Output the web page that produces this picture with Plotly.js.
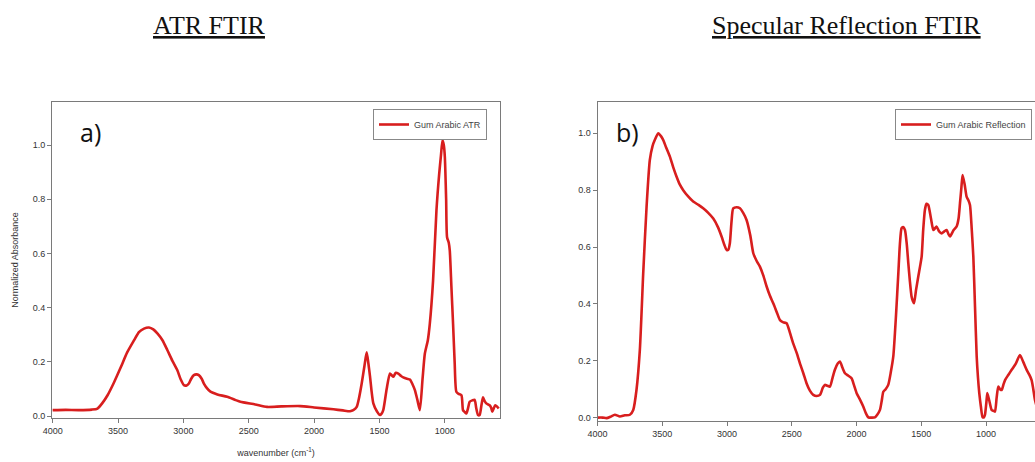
<!DOCTYPE html>
<html>
<head>
<meta charset="utf-8">
<script src="https://cdn.plot.ly/plotly-3.0.1.min.js"></script>
<style>
html,body{margin:0;padding:0;overflow:hidden;background:#fff;}
#chart{width:1050px;height:462px;}
</style>
</head>
<body>
<div id="chart"></div>
<script>
// ATR FTIR spectrum (panel a)
const atrWavenumber = [4000,3900,3800,3700,3657,3620,3580,3530,3479,3430,3377,3340,3301,3263,3230,3199,3160,3123,3085,3047,3020,2996,2975,2958,2940,2920,2900,2882,2860,2843,2820,2793,2740,2665,2600,2564,2450,2360,2250,2106,2000,1852,1780,1725,1700,1674,1655,1636,1615,1598,1585,1572,1560,1547,1520,1496,1485,1471,1445,1420,1405,1394,1375,1356,1335,1318,1290,1267,1245,1229,1210,1191,1170,1153,1130,1115,1090,1064,1043,1030,1018,1008,1000,990,983,970,962,950,937,925,912,895,873,861,848,835,822,810,790,772,760,746,734,720,708,695,683,670,657,645,637,625,614,600,588];
const atrAbsorbance = [0.022,0.023,0.022,0.024,0.028,0.048,0.077,0.125,0.18,0.235,0.28,0.31,0.323,0.327,0.32,0.305,0.28,0.244,0.205,0.17,0.135,0.114,0.113,0.12,0.138,0.151,0.154,0.151,0.138,0.12,0.103,0.09,0.08,0.071,0.059,0.053,0.043,0.034,0.036,0.037,0.032,0.025,0.021,0.018,0.022,0.034,0.07,0.12,0.185,0.235,0.195,0.145,0.09,0.047,0.018,0.004,0.008,0.022,0.1,0.157,0.15,0.145,0.16,0.157,0.148,0.143,0.138,0.135,0.115,0.096,0.06,0.022,0.14,0.23,0.28,0.34,0.5,0.76,0.895,0.96,1.018,1.0,0.957,0.8,0.66,0.64,0.61,0.48,0.34,0.2,0.09,0.082,0.077,0.022,0.015,0.01,0.03,0.053,0.058,0.06,0.03,0.004,0.004,0.04,0.069,0.055,0.047,0.043,0.04,0.03,0.016,0.03,0.04,0.035,0.028];

// Specular reflection FTIR spectrum (panel b)
const reflWavenumber = [4000,3960,3930,3900,3866,3827,3790,3750,3724,3699,3673,3647,3621,3596,3575,3557,3531,3510,3493,3470,3441,3415,3390,3365,3338,3300,3261,3220,3184,3145,3106,3070,3042,3020,3003,2990,2978,2965,2952,2925,2900,2875,2849,2820,2797,2770,2746,2720,2694,2670,2643,2615,2591,2565,2540,2515,2489,2460,2437,2410,2386,2360,2334,2308,2282,2260,2244,2225,2205,2185,2167,2145,2128,2108,2089,2065,2038,2020,1999,1975,1948,1930,1909,1880,1858,1840,1819,1805,1793,1775,1755,1735,1716,1695,1677,1665,1652,1640,1626,1612,1600,1588,1575,1565,1556,1540,1523,1510,1497,1485,1472,1460,1446,1425,1407,1395,1382,1362,1343,1322,1304,1290,1278,1250,1227,1212,1201,1190,1181,1165,1150,1137,1124,1110,1098,1085,1072,1062,1052,1040,1026,1016,1008,998,990,975,957,945,931,918,905,892,879,866,853,828,802,770,738,712,686,665,648,635,622,600,585,570];
const reflSignal = [0.0,0.0,-0.002,0.003,0.01,0.004,0.008,0.01,0.027,0.097,0.238,0.508,0.742,0.906,0.955,0.977,1.0,0.99,0.977,0.95,0.918,0.88,0.848,0.82,0.8,0.778,0.76,0.748,0.736,0.72,0.7,0.67,0.637,0.607,0.59,0.59,0.613,0.69,0.736,0.74,0.736,0.72,0.695,0.64,0.578,0.55,0.531,0.5,0.461,0.43,0.402,0.37,0.343,0.335,0.332,0.3,0.261,0.225,0.191,0.155,0.121,0.095,0.08,0.076,0.08,0.105,0.115,0.112,0.109,0.14,0.168,0.19,0.197,0.175,0.156,0.148,0.138,0.115,0.086,0.065,0.039,0.018,0.001,0.0,0.001,0.01,0.027,0.06,0.091,0.1,0.115,0.16,0.215,0.36,0.508,0.61,0.666,0.67,0.66,0.61,0.543,0.48,0.426,0.41,0.402,0.45,0.496,0.53,0.566,0.66,0.73,0.752,0.748,0.7,0.66,0.665,0.672,0.655,0.648,0.655,0.66,0.645,0.637,0.66,0.672,0.7,0.754,0.81,0.853,0.82,0.777,0.765,0.748,0.66,0.566,0.39,0.215,0.14,0.086,0.04,0.001,0.001,0.01,0.05,0.086,0.06,0.027,0.024,0.021,0.07,0.109,0.1,0.097,0.115,0.132,0.15,0.168,0.19,0.22,0.195,0.168,0.15,0.132,0.1,0.062,0.03,0.02,0.015];

const panelTitles = ["ATR FTIR", "Specular Reflection FTIR"];
const legendNames = ["Gum Arabic ATR", "Gum Arabic Reflection"];
const panelLabels = ["a)", "b)"];
const xTitle = "wavenumber (cm<sup>-1</sup>)";
const yTitle = "Normalized Absorbance";

const red = '#d81e1e';
const W = 1050, H = 462;
const px = v => v / W;
const py = v => (H - v) / H;

const traces = [
  {x: atrWavenumber, y: atrAbsorbance, type: 'scatter', mode: 'lines', name: legendNames[0],
   line: {color: red, width: 2.6, shape: 'spline', smoothing: 0.6}, xaxis: 'x', yaxis: 'y', legend: 'legend'},
  {x: reflWavenumber, y: reflSignal, type: 'scatter', mode: 'lines', name: legendNames[1],
   line: {color: red, width: 2.6, shape: 'spline', smoothing: 0.6}, xaxis: 'x2', yaxis: 'y2', legend: 'legend2'}
];

const tickFont = {family: 'Liberation Sans, Arial, sans-serif', size: 9, color: '#333'};
const axisCommon = {
  showgrid: false, zeroline: false, showline: true, mirror: true,
  linecolor: '#7a7a7a', linewidth: 1, ticks: 'outside', ticklen: 4,
  tickcolor: '#7a7a7a', tickfont: tickFont
};

const legendCommon = {
  bordercolor: '#888', borderwidth: 1, bgcolor: '#fff',
  font: {family: 'Liberation Sans, Arial, sans-serif', size: 9, color: '#444'},
  xanchor: 'right', yanchor: 'top', itemwidth: 30, tracegroupgap: 0
};

const layout = {
  width: W, height: H,
  margin: {l: 0, r: 0, t: 0, b: 0},
  paper_bgcolor: '#fff', plot_bgcolor: '#fff',
  showlegend: true,
  xaxis: Object.assign({}, axisCommon, {
    domain: [px(52), px(500)], range: [4005, 578], dtick: 500, tick0: 1000,
    anchor: 'y',
    title: {text: xTitle, font: {family: 'Liberation Sans, Arial, sans-serif', size: 9, color: '#333'}, standoff: 14}
  }),
  yaxis: Object.assign({}, axisCommon, {
    domain: [py(418), py(102)], range: [-0.007, 1.159], dtick: 0.2, tick0: 0, tickformat: '.1f',
    anchor: 'x',
    title: {text: yTitle, font: {family: 'Liberation Sans, Arial, sans-serif', size: 9, color: '#333'}, standoff: 12}
  }),
  xaxis2: Object.assign({}, axisCommon, {
    domain: [px(597.5), px(1043)], range: [4000, 560], dtick: 500, tick0: 1000, anchor: 'y2'
  }),
  yaxis2: Object.assign({}, axisCommon, {
    domain: [py(421), py(102)], range: [-0.012, 1.11], dtick: 0.2, tick0: 0, tickformat: '.1f', anchor: 'x2'
  }),
  legend: Object.assign({}, legendCommon, {x: px(487), y: py(109)}),
  legend2: Object.assign({}, legendCommon, {x: px(1032), y: py(109)}),
  annotations: [
    {text: '<u>' + panelTitles[0] + '</u>', xref: 'paper', yref: 'paper', x: px(209), y: py(25),
     xanchor: 'center', yanchor: 'middle', showarrow: false,
     font: {family: 'Liberation Serif, Times New Roman, serif', size: 26, color: '#111'}},
    {text: '<u>' + panelTitles[1] + '</u>', xref: 'paper', yref: 'paper', x: px(846), y: py(25),
     xanchor: 'center', yanchor: 'middle', showarrow: false,
     font: {family: 'Liberation Serif, Times New Roman, serif', size: 26, color: '#111'}},
    {text: panelLabels[0], xref: 'paper', yref: 'paper', x: px(78), y: py(132),
     xanchor: 'left', yanchor: 'middle', showarrow: false,
     font: {family: 'Open Sans, DejaVu Sans, sans-serif', size: 25, color: '#111'}},
    {text: panelLabels[1], xref: 'paper', yref: 'paper', x: px(614), y: py(132),
     xanchor: 'left', yanchor: 'middle', showarrow: false,
     font: {family: 'Open Sans, DejaVu Sans, sans-serif', size: 25, color: '#111'}}
  ]
};

Plotly.newPlot('chart', traces, layout, {displayModeBar: false, staticPlot: true});
</script>
</body>
</html>
